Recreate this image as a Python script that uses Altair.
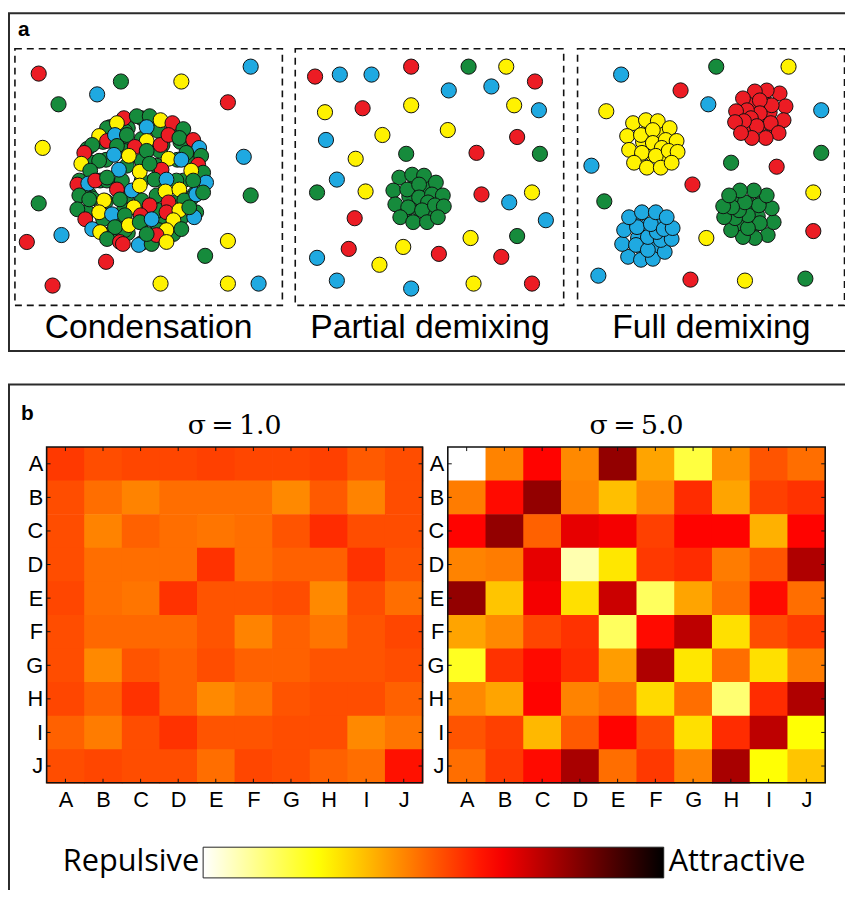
import json
import altair as alt
import pandas as pd

# ---------------- data ----------------
LETTERS = list("ABCDEFGHIJ")

# interaction matrices (0 = repulsive/white ... 1 = attractive/black)
SIGMA1 = [
    [.55, .52, .53, .53, .54, .53, .53, .54, .50, .52],
    [.52, .47, .44, .47, .47, .47, .43, .50, .44, .52],
    [.52, .44, .49, .47, .46, .47, .51, .57, .52, .52],
    [.52, .47, .47, .47, .56, .47, .49, .49, .56, .51],
    [.53, .47, .46, .56, .51, .51, .52, .43, .52, .47],
    [.52, .48, .48, .48, .51, .44, .49, .46, .51, .53],
    [.52, .43, .51, .49, .52, .49, .49, .51, .51, .52],
    [.53, .49, .56, .49, .43, .46, .51, .52, .52, .49],
    [.49, .45, .52, .56, .51, .51, .52, .52, .43, .46],
    [.52, .53, .52, .52, .47, .53, .52, .49, .47, .61],
]
SIGMA5 = [
    [.00, .44, .63, .43, .79, .39, .19, .42, .51, .47],
    [.45, .62, .79, .44, .35, .43, .57, .39, .54, .56],
    [.63, .79, .49, .67, .65, .54, .63, .63, .37, .63],
    [.44, .45, .67, .08, .29, .55, .57, .45, .51, .75],
    [.79, .34, .65, .30, .71, .16, .39, .47, .62, .47],
    [.39, .43, .53, .56, .16, .62, .73, .30, .52, .55],
    [.22, .56, .62, .57, .40, .75, .29, .47, .30, .45],
    [.43, .39, .63, .44, .47, .31, .47, .14, .57, .75],
    [.51, .54, .36, .50, .63, .52, .30, .57, .73, .25],
    [.47, .55, .62, .76, .47, .55, .44, .76, .25, .34],
]
TITLES = ["σ\u2009=\u20091.0", "σ\u2009=\u20095.0"]
PANEL_NAMES = ["Condensation", "Partial demixing", "Full demixing"]

# particle kinds
KINDS = ["r", "g", "b", "y"]
KIND_COLORS = ["#ec1c24", "#168b3c", "#1fa9e1", "#fff200"]

# free particles (page coordinates)
FREE_A = [(39, 70, 'r'), (253, 63, 'b'), (122, 78, 'g'), (183, 78, 'y'), (98, 91, 'b'),
          (59, 101, 'g'), (230, 99, 'r'), (43, 145, 'y'), (246, 154, 'b'), (253, 193, 'g'),
          (39, 201, 'g'), (27, 240, 'r'), (62, 233, 'b'), (230, 239, 'y'), (207, 254, 'g'),
          (107, 260, 'r'), (53, 284, 'r'), (162, 282, 'y'), (230, 282, 'y'), (261, 282, 'b')]
FREE_B = [(318, 73, 'r'), (343, 71, 'b'), (375, 71, 'b'), (415, 63, 'r'), (473, 63, 'g'),
          (511, 63, 'y'), (453, 87, 'b'), (496, 83, 'b'), (540, 78, 'r'), (328, 109, 'y'),
          (366, 105, 'r'), (415, 102, 'y'), (519, 102, 'y'), (544, 107, 'b'), (329, 137, 'b'),
          (386, 132, 'y'), (452, 127, 'y'), (522, 134, 'r'), (410, 151, 'g'), (481, 150, 'r'),
          (545, 151, 'g'), (359, 156, 'y'), (340, 177, 'b'), (320, 190, 'g'), (369, 189, 'y'),
          (486, 192, 'r'), (514, 200, 'b'), (537, 190, 'y'), (358, 216, 'r'), (551, 218, 'b'),
          (522, 234, 'g'), (475, 236, 'y'), (407, 245, 'y'), (352, 247, 'r'), (443, 252, 'r'),
          (506, 255, 'r'), (320, 256, 'b'), (383, 263, 'y'), (340, 279, 'b'), (415, 287, 'b'),
          (478, 282, 'y'), (537, 282, 'r')]
FREE_C = [(627, 71, 'b'), (723, 63, 'g'), (796, 63, 'y'), (687, 87, 'r'), (715, 101, 'b'),
          (612, 108, 'y'), (829, 107, 'b'), (829, 150, 'g'), (597, 163, 'b'), (738, 160, 'g'),
          (784, 164, 'r'), (699, 182, 'r'), (610, 199, 'g'), (821, 190, 'y'), (821, 229, 'r'),
          (713, 236, 'y'), (604, 274, 'b'), (697, 278, 'r'), (752, 279, 'y'), (813, 277, 'g')]

# mixed condensate of panel "Condensation" (page coordinates, back to front)
CLUSTER_A = [
    # hidden back layer
    (185, 178, 'g'), (179, 157, 'g'), (164, 142, 'g'), (143, 136, 'g'), (122, 142, 'g'),
    (107, 157, 'g'), (101, 178, 'g'), (107, 199, 'g'), (122, 214, 'g'), (143, 220, 'g'),
    (164, 214, 'g'), (179, 199, 'g'),
    (196, 164, 'g'), (182, 139, 'g'), (157, 125, 'g'), (129, 125, 'g'), (104, 139, 'g'),
    (90, 164, 'g'), (90, 192, 'g'), (104, 217, 'g'), (129, 231, 'g'), (157, 231, 'g'),
    (182, 217, 'g'), (196, 192, 'g'),
    (143, 158, 'g'), (143, 198, 'g'), (123, 178, 'g'), (163, 178, 'g'), (128, 163, 'g'),
    (158, 163, 'g'), (128, 193, 'g'), (158, 193, 'g'),
    (143, 178, 'g'), (178, 178, 'g'), (161, 148, 'g'), (125, 148, 'g'), (108, 178, 'g'),
    (125, 208, 'g'), (161, 208, 'g'), (206, 178, 'g'), (198, 146, 'g'), (175, 124, 'g'),
    (143, 115, 'g'), (111, 124, 'g'), (88, 146, 'g'), (80, 178, 'g'), (88, 210, 'g'),
    (111, 232, 'g'), (143, 241, 'g'), (175, 232, 'g'), (198, 210, 'g'), (193, 160, 'g'),
    (193, 196, 'g'), (160, 128, 'g'), (126, 128, 'g'), (93, 160, 'g'), (93, 196, 'g'),
    (126, 228, 'g'), (160, 228, 'g'),
    # visible front layer
    (125, 115, 'r'), (138, 113, 'g'), (151, 113, 'g'), (162, 117, 'y'), (174, 120, 'r'),
    (108, 125, 'g'), (118, 120, 'y'), (148, 124, 'b'), (185, 126, 'g'),
    (100, 133, 'y'), (108, 138, 'r'), (93, 142, 'g'), (116, 132, 'b'), (128, 132, 'g'),
    (148, 138, 'y'), (162, 142, 'r'), (170, 132, 'r'), (181, 135, 'g'), (195, 137, 'r'),
    (85, 150, 'r'), (118, 143, 'g'), (136, 144, 'r'), (115, 152, 'b'), (130, 153, 'y'),
    (148, 148, 'g'), (170, 156, 'y'), (201, 145, 'b'), (188, 150, 'g'), (203, 153, 'g'),
    (82, 161, 'y'), (100, 158, 'g'), (91, 168, 'g'), (120, 167, 'b'), (141, 169, 'y'),
    (163, 167, 'r'), (151, 161, 'g'), (183, 157, 'b'), (200, 162, 'r'), (205, 170, 'g'),
    (193, 168, 'y'),
    (78, 182, 'r'), (89, 181, 'b'), (96, 178, 'r'), (108, 175, 'g'), (133, 188, 'b'),
    (141, 183, 'y'), (118, 187, 'r'), (156, 177, 'g'), (168, 177, 'b'), (167, 189, 'y'),
    (181, 187, 'y'), (208, 180, 'b'), (195, 178, 'g'),
    (80, 193, 'g'), (90, 197, 'g'), (105, 198, 'y'), (121, 197, 'g'), (135, 205, 'y'),
    (151, 203, 'r'), (170, 200, 'r'), (186, 198, 'g'), (198, 192, 'b'), (205, 190, 'g'),
    (78, 207, 'g'), (86, 217, 'r'), (100, 210, 'y'), (113, 212, 'b'), (126, 213, 'g'),
    (142, 213, 'r'), (168, 210, 'r'), (181, 208, 'y'), (196, 215, 'b'), (191, 205, 'g'),
    (93, 227, 'b'), (101, 230, 'y'), (116, 225, 'g'), (130, 223, 'y'), (141, 220, 'g'),
    (153, 217, 'b'), (175, 218, 'y'), (168, 228, 'y'), (183, 227, 'g'),
    (108, 237, 'g'), (121, 240, 'r'), (124, 242, 'r'), (140, 243, 'b'), (153, 242, 'g'),
    (158, 233, 'r'), (168, 240, 'y'), (148, 232, 'g'),
]

# single-kind droplets: particle offsets read from the green droplet of "Partial demixing"
DROPLET_OFFSETS = [
    (0, 0), (-10, -3), (10, -3), (0, 10), (-14, 12), (14, 12), (-5, -14), (8, -14),
    (-20, -22), (-7, -25), (5, -24), (17, -17), (-26, -9), (-12, -10), (0, -15), (0, -2),
    (13, -5), (24, -4), (-24, 5), (-11, 8), (9, 3), (3, 11), (16, 6), (25, 7),
    (-19, 18), (-6, 23), (8, 23), (19, 18),
]
# droplet centres, kind and orientation (mirror) of each droplet
DROPLETS = [(423, 197, 'g', 1, 1), (659, 142, 'y', 1, 1), (767, 112, 'r', -1, 1),
            (654, 233, 'b', 1, -1), (755, 211, 'g', -1, -1)]

# ---------------- tables ----------------
free_df = pd.DataFrame(FREE_A + FREE_B + FREE_C, columns=["x", "y", "k"])
free_df["i"] = range(len(free_df))

rows = list(CLUSTER_A)
for cx, cy, k, sx, sy in DROPLETS:
    for dx, dy in DROPLET_OFFSETS:
        rows.append((cx + sx * dx, cy + sy * dy, k))
clus_df = pd.DataFrame(rows, columns=["x", "y", "k"])
clus_df["i"] = range(len(clus_df))


def matrix_df(m):
    return pd.DataFrame([{"r": i, "c": j, "v": m[i][j]}
                         for i in range(len(LETTERS)) for j in range(len(LETTERS))])


# ---------------- scales ----------------
def px_x():
    return alt.Scale(domain=[8, 853], range=[0, 845], nice=False, zero=False)


def px_y():
    return alt.Scale(domain=[8, 890], range=[0, 882], nice=False, zero=False)


HX = [[39, 418.5], [444, 825]]
HY = [439, 778]


def hx(k):
    return alt.Scale(domain=[0, 10], range=HX[k], nice=False, zero=False)


def hy():
    return alt.Scale(domain=[0, 10], range=HY, nice=False, zero=False)


CSCALE = alt.Scale(domain=[0, 0.254, 0.635, 1],
                   range=["#ffffff", "#ffff00", "#ff0000", "#000000"],
                   interpolate="rgb", nice=False, zero=False)
KSCALE = alt.Scale(domain=KINDS, range=KIND_COLORS)

one = alt.Data(values=[{"a": 0}])
LABEL_EXPR = json.dumps(LETTERS) + "[floor(datum.value)]"
TICK_VALUES = [i + 0.5 for i in range(len(LETTERS))]

layers = []

# panel borders
layers.append(alt.Chart(one).mark_rect(fillOpacity=0, stroke="#2b2b2b", strokeWidth=2).encode(
    x=alt.value(1), x2=alt.value(900), y=alt.value(1), y2=alt.value(342)))
layers.append(alt.Chart(one).mark_rect(fillOpacity=0, stroke="#2b2b2b", strokeWidth=2).encode(
    x=alt.value(1), x2=alt.value(900), y=alt.value(376), y2=alt.value(960)))

# dashed boxes
for x0, x1 in [(7, 277), (290, 561), (575, 844.5)]:
    layers.append(alt.Chart(one).mark_rect(fillOpacity=0, stroke="#111", strokeWidth=1.6,
                                           strokeDash=[7, 5]).encode(
        x=alt.value(x0), x2=alt.value(x1), y=alt.value(37), y2=alt.value(296)))

# particles
layers.append(alt.Chart(free_df).mark_circle(size=235, stroke="#111", strokeWidth=1, opacity=1).encode(
    x=alt.X("x:Q", scale=px_x(), axis=None),
    y=alt.Y("y:Q", scale=px_y(), axis=None),
    fill=alt.Fill("k:N", scale=KSCALE, legend=None),
    order=alt.Order("i:Q")))
layers.append(alt.Chart(clus_df).mark_circle(size=225, stroke="#111", strokeWidth=1, opacity=1).encode(
    x=alt.X("x:Q", scale=px_x(), axis=None),
    y=alt.Y("y:Q", scale=px_y(), axis=None),
    fill=alt.Fill("k:N", scale=KSCALE, legend=None),
    order=alt.Order("i:Q")))

# panel a captions
for name, cx in zip(PANEL_NAMES, [142, 426, 710]):
    layers.append(alt.Chart(one).mark_text(text=name, font="Liberation Sans", fontSize=34,
                                           align="center", baseline="alphabetic", color="#000").encode(
        x=alt.value(cx), y=alt.value(329)))

# panel letters
layers.append(alt.Chart(one).mark_text(text="a", font="Liberation Sans", fontSize=21, fontWeight="bold",
                                       align="left", baseline="alphabetic").encode(
    x=alt.value(10), y=alt.value(24)))
layers.append(alt.Chart(one).mark_text(text="b", font="Liberation Sans", fontSize=21, fontWeight="bold",
                                       align="left", baseline="alphabetic").encode(
    x=alt.value(13), y=alt.value(412)))

LEGEND = alt.Legend(type="gradient", orient="none", legendX=197, legendY=843, direction="horizontal",
                    gradientLength=465, gradientThickness=31, title=None, labelExpr="''",
                    gradientStrokeColor="#222", gradientStrokeWidth=1, padding=0)

for k, m in enumerate([SIGMA1, SIGMA5]):
    # cells overlap their neighbours by a hair so no seams show between them
    layers.append(alt.Chart(matrix_df(m)).transform_calculate(
        r2="datum.r + 1.02", c2="datum.c + 1.02").mark_rect().encode(
        x=alt.X("c:Q", scale=hx(k), axis=alt.Axis(
            orient="bottom", offset=-104, values=TICK_VALUES, labelExpr=LABEL_EXPR,
            ticks=False, domain=False, grid=False, title=None, labelFont="Liberation Sans",
            labelFontSize=22, labelColor="#000", labelPadding=7, labelFlush=False,
            labelOverlap=False)),
        x2="c2:Q",
        y=alt.Y("r:Q", scale=hy(), axis=alt.Axis(
            orient="left", offset=-HX[k][0], values=TICK_VALUES, labelExpr=LABEL_EXPR,
            ticks=False, domain=False, grid=False, title=None, labelFont="Liberation Sans",
            labelFontSize=22, labelColor="#000", labelPadding=4, labelFlush=False,
            labelOverlap=False)),
        y2="r2:Q",
        color=alt.Color("v:Q", scale=CSCALE, legend=LEGEND)))

    # inward ticks on all four sides
    tdf = pd.DataFrame({"p": TICK_VALUES})
    for a, b, horiz in [(0, 0.12, True), (9.88, 10, True), (0, 0.105, False), (9.895, 10, False)]:
        base = alt.Chart(tdf).transform_calculate(a=str(a), b=str(b)).mark_rule(color="#111", strokeWidth=1)
        if horiz:
            layers.append(base.encode(x=alt.X("p:Q", scale=hx(k), axis=None),
                                      y=alt.Y("a:Q", scale=hy(), axis=None), y2="b:Q"))
        else:
            layers.append(base.encode(y=alt.Y("p:Q", scale=hy(), axis=None),
                                      x=alt.X("a:Q", scale=hx(k), axis=None), x2="b:Q"))

    # frame
    layers.append(alt.Chart(pd.DataFrame({"a": [0], "b": [10]})).mark_rect(
        fillOpacity=0, stroke="#111", strokeWidth=1.6).encode(
        x=alt.X("a:Q", scale=hx(k), axis=None), x2="b:Q",
        y=alt.Y("a:Q", scale=hy(), axis=None), y2="b:Q"))

    # title
    layers.append(alt.Chart(one).mark_text(text=TITLES[k], font="DejaVu Serif", fontSize=27,
                                           align="center", baseline="alphabetic").encode(
        x=alt.value((HX[k][0] + HX[k][1]) / 2), y=alt.value(426)))

# colorbar end labels
layers.append(alt.Chart(one).mark_text(text="Repulsive", font="Open Sans", fontSize=31,
                                       align="right", baseline="alphabetic").encode(
    x=alt.value(193), y=alt.value(867)))
layers.append(alt.Chart(one).mark_text(text="Attractive", font="Open Sans", fontSize=31,
                                       align="left", baseline="alphabetic").encode(
    x=alt.value(667), y=alt.value(867)))

chart = alt.layer(*layers).resolve_scale(x="independent", y="independent").properties(
    width=845, height=882, padding=0, autosize=alt.AutoSizeParams(type="none"),
    background="white"
).configure_view(strokeWidth=0).configure_legend(
    gradientHorizontalMaxLength=465, gradientHorizontalMinLength=465)

chart.save("out.html", embed_options={"renderer": "svg", "actions": False})
